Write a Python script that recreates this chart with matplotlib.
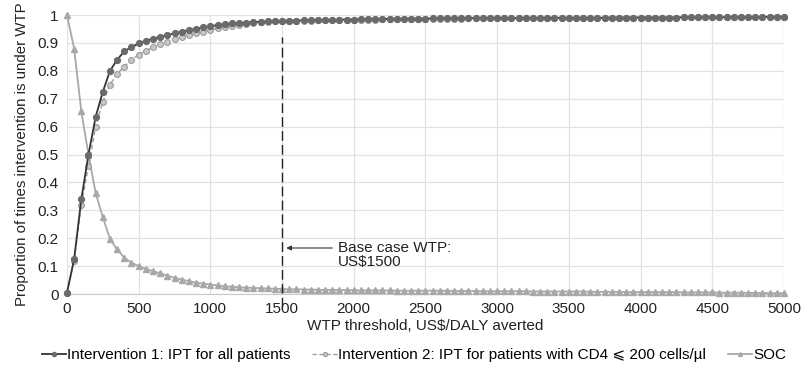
import numpy as np
import matplotlib
matplotlib.use("Agg")
import matplotlib.pyplot as plt

plt.rcParams['font.family'] = ['Liberation Sans', 'DejaVu Sans']

# WTP thresholds, every US$50 from 0 to 5000
wtp = list(range(0, 5001, 50))

interv1 = [
    0.005, 0.125, 0.340, 0.500, 0.635, 0.725, 0.800, 0.840, 0.870, 0.885,
    0.898, 0.908, 0.915, 0.922, 0.928, 0.935, 0.940, 0.946, 0.951, 0.956,
    0.960, 0.964, 0.967, 0.970, 0.972, 0.973, 0.975, 0.976, 0.977, 0.978,
    0.979,
    0.980, 0.980, 0.981, 0.981, 0.982, 0.982, 0.983, 0.983, 0.984, 0.984,
    0.985, 0.985, 0.985, 0.986, 0.986, 0.986, 0.987, 0.987, 0.987, 0.987,
    0.988, 0.988, 0.988, 0.988, 0.988, 0.989, 0.989, 0.989, 0.989, 0.989,
    0.989, 0.989, 0.989, 0.989, 0.989, 0.990, 0.990, 0.990, 0.990, 0.990,
    0.990, 0.990, 0.990, 0.990, 0.990, 0.991, 0.991, 0.991, 0.991, 0.991,
    0.991, 0.991, 0.991, 0.991, 0.991, 0.992, 0.992, 0.992, 0.992, 0.992,
    0.992, 0.992, 0.992, 0.993, 0.993, 0.993, 0.993, 0.994, 0.994, 0.994,
]

interv2 = [
    0.005, 0.120, 0.320, 0.460, 0.600, 0.690, 0.750, 0.790, 0.815, 0.840,
    0.858, 0.872, 0.884, 0.895, 0.905, 0.913, 0.921, 0.928, 0.934, 0.940,
    0.946, 0.952, 0.957, 0.962, 0.966, 0.969, 0.972, 0.974, 0.976, 0.977,
    0.978,
    0.979, 0.979, 0.980, 0.980, 0.981, 0.981, 0.982, 0.982, 0.983, 0.983,
    0.984, 0.984, 0.984, 0.985, 0.985, 0.985, 0.986, 0.986, 0.986, 0.986,
    0.987, 0.987, 0.987, 0.987, 0.987, 0.988, 0.988, 0.988, 0.988, 0.988,
    0.988, 0.988, 0.989, 0.989, 0.989, 0.989, 0.989, 0.989, 0.989, 0.990,
    0.990, 0.990, 0.990, 0.990, 0.990, 0.990, 0.991, 0.991, 0.991, 0.991,
    0.991, 0.991, 0.991, 0.991, 0.991, 0.992, 0.992, 0.992, 0.992, 0.992,
    0.992, 0.992, 0.992, 0.993, 0.993, 0.993, 0.993, 0.993, 0.994, 0.994,
]

soc = [
    1.000, 0.880, 0.655, 0.500, 0.362, 0.275, 0.197, 0.160, 0.130, 0.112,
    0.100, 0.090, 0.082, 0.074, 0.066, 0.058, 0.052, 0.046, 0.041, 0.037,
    0.034, 0.031, 0.028, 0.026, 0.024, 0.023, 0.022, 0.021, 0.020, 0.019,
    0.018,
    0.017, 0.017, 0.016, 0.016, 0.015, 0.015, 0.015, 0.014, 0.014, 0.014,
    0.013, 0.013, 0.013, 0.013, 0.013, 0.012, 0.012, 0.012, 0.012, 0.012,
    0.012, 0.012, 0.012, 0.011, 0.011, 0.011, 0.011, 0.010, 0.010, 0.010,
    0.010, 0.010, 0.010, 0.010, 0.009, 0.009, 0.009, 0.009, 0.009, 0.009,
    0.009, 0.009, 0.008, 0.008, 0.008, 0.008, 0.008, 0.007, 0.007, 0.007,
    0.007, 0.007, 0.007, 0.007, 0.007, 0.006, 0.006, 0.006, 0.006, 0.006,
    0.005, 0.005, 0.005, 0.005, 0.004, 0.004, 0.004, 0.003, 0.003, 0.003,
]

base_wtp = 1500
labels = ["Intervention 1: IPT for all patients",
          "Intervention 2: IPT for patients with CD4 \u2a7d 200 cells/\u00b5l",
          "SOC"]

fig = plt.figure(figsize=(8.04, 3.76), dpi=100)
ax = fig.add_axes([0.0833, 0.218, 0.8917, 0.742])

ax.plot(wtp, soc, color="#a8a8a8", lw=1.3, marker="^", ms=3.8,
        mfc="#a8a8a8", mec="#a8a8a8", label=labels[2], clip_on=False, zorder=3)
ax.plot(wtp, interv2, color="#9a9a9a", lw=1.0, ls=(0, (3, 2)), marker="o", ms=4.2,
        mfc="#c8c8c8", mec="#9a9a9a", mew=0.8, label=labels[1], clip_on=False, zorder=4)
ax.plot(wtp, interv1, color="#333333", lw=1.3, marker="o", ms=4.2,
        mfc="#6a6a6a", mec="#6a6a6a", label=labels[0], clip_on=False, zorder=5)

# base case WTP marker
ax.plot([base_wtp, base_wtp], [-0.045, 0.92], color="#222222", lw=1.0,
        ls=(0, (7, 3)), clip_on=False, zorder=6)
ax.annotate("", xy=(base_wtp + 10, 0.165), xytext=(1870, 0.165),
            arrowprops=dict(arrowstyle="-|>", color="#333333", lw=0.8,
                            mutation_scale=7))
ax.text(1890, 0.14, "Base case WTP:\nUS$1500", fontsize=11, va="center",
        ha="left", color="#222222", linespacing=1.0)

ax.set_xlim(0, 5000)
ax.set_ylim(0, 1)
ax.set_xticks(range(0, 5001, 500))
ax.set_yticks(np.arange(0, 1.01, 0.1))
ax.set_yticklabels(["0", "0.1", "0.2", "0.3", "0.4", "0.5", "0.6", "0.7",
                    "0.8", "0.9", "1"])
ax.tick_params(length=0, labelsize=11, colors="#222222", pad=6)
ax.grid(True, color="#e2e2e2", lw=0.9)
ax.set_axisbelow(True)
for s in ["top", "right", "left"]:
    ax.spines[s].set_visible(False)
ax.spines["bottom"].set_color("#c8c8c8")

ax.set_xlabel("WTP threshold, US$/DALY averted", fontsize=11, color="#222222",
              labelpad=2)
ax.set_ylabel("Proportion of times intervention is under WTP", fontsize=10.8,
              color="#222222", labelpad=6)

handles, labs = ax.get_legend_handles_labels()
order = [2, 1, 0]
fig.legend([handles[i] for i in order], [labs[i] for i in order],
           loc="center", bbox_to_anchor=(0.515, 0.055), ncol=3, frameon=False,
           fontsize=11, handlelength=1.6, handletextpad=0.1, columnspacing=1.4,
           markerscale=0.7)

fig.savefig("out.png", dpi=100)
